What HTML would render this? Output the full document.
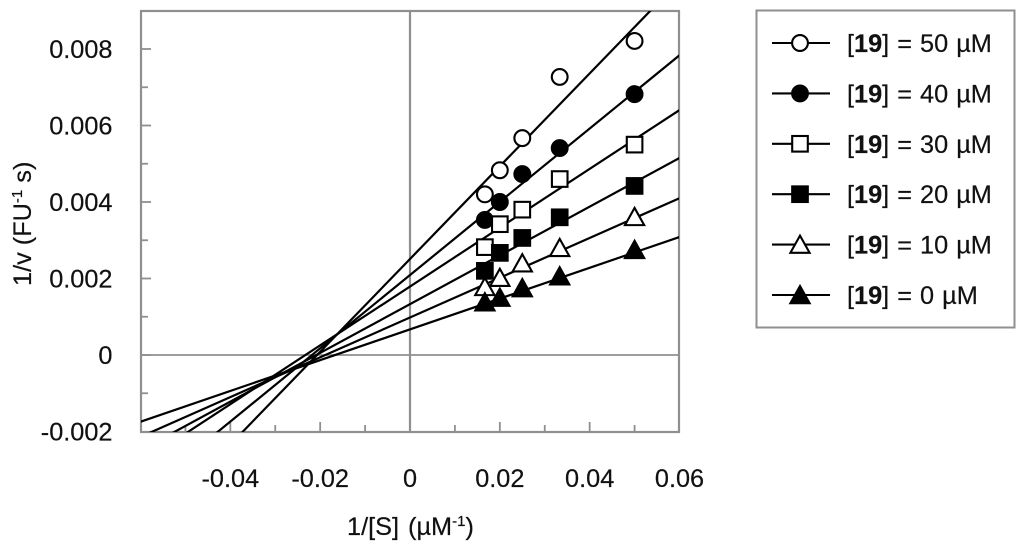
<!DOCTYPE html>
<html lang="en">
<head>
<meta charset="utf-8">
<title>Lineweaver-Burk plot</title>
<style>
html,body{margin:0;padding:0;background:#fff;width:1024px;height:550px;overflow:hidden}
svg{display:block;font-family:"Liberation Sans",sans-serif;fill:#111}
text{font-size:25.3px;stroke:#111;stroke-width:0.2}
</style>
</head>
<body>
<svg id="chart" width="1024" height="550" viewBox="0 0 1024 550" xmlns="http://www.w3.org/2000/svg">
  <defs><clipPath id="plot-clip"><rect x="141" y="11" width="538" height="421"></rect></clipPath></defs>
  <rect x="141" y="11" width="538" height="421" fill="#fff"></rect>
  <g id="axes"></g>
  <g id="lines" clip-path="url(#plot-clip)"></g>
  <g id="points"></g>
  <g id="tick-labels"></g>
  <text x="347" y="535" word-spacing="2">1/[S] (µM<tspan font-size="15" dy="-9">-1</tspan><tspan dy="9">)</tspan></text>
  <text transform="translate(31,286) rotate(-90)">1/v (FU<tspan font-size="15" dy="-9">-1</tspan><tspan dy="9"> s)</tspan></text>
  <g id="legend">
    <rect x="756.5" y="10.5" width="258" height="317" fill="#fff" stroke="#8f8f8f" stroke-width="2"></rect>
  </g>
</svg>
<script>
// Chart data
const substrateInverse = [0.01667, 0.02, 0.025, 0.03333, 0.05];
const seriesConcentrations = [50, 40, 30, 20, 10, 0];
const seriesShapes = ['circle', 'circle', 'square', 'square', 'triangle', 'triangle'];
const seriesFilled = [false, true, false, true, false, true];
const values50 = [0.00420, 0.00483, 0.00567, 0.00727, 0.00821];
const values40 = [0.00353, 0.00400, 0.00473, 0.00541, 0.00682];
const values30 = [0.00282, 0.00342, 0.00380, 0.00460, 0.00550];
const values20 = [0.00220, 0.00267, 0.00306, 0.00360, 0.00442];
const values10 = [0.00178, 0.00202, 0.00240, 0.00280, 0.00361];
const values0 = [0.00138, 0.00150, 0.00175, 0.00206, 0.00275];
const lineSlopes = [0.12127, 0.09576, 0.0769, 0.0637, 0.052, 0.04025];
const lineIntercepts = [0.00251, 0.00209, 0.00179, 0.00133, 0.00098, 0.00067];
const xTickLabels = ['-0.04', '-0.02', '0', '0.02', '0.04', '0.06'];
const yTickLabels = ['-0.002', '0', '0.002', '0.004', '0.006', '0.008'];
const xMinorTicks = [-0.05, -0.04, -0.03, -0.02, -0.01, 0.01, 0.02, 0.03, 0.04, 0.05];
const yMinorTicks = [-0.001, 0, 0.001, 0.002, 0.003, 0.004, 0.005, 0.006, 0.007, 0.008];
const allValues = [values50, values40, values30, values20, values10, values0];

const NS = 'http://www.w3.org/2000/svg';
const INK = '#000';
const AXIS = '#8f8f8f';
const xScale = function (u) { return 410 + (u / 0.06) * 269.5; };
const yScale = function (v) { return 355 - (v / 0.002) * 76.5; };
const mk = function (tag, attrs, parent) {
  const el = document.createElementNS(NS, tag);
  Object.keys(attrs).forEach(function (k) { el.setAttribute(k, attrs[k]); });
  parent.appendChild(el);
  return el;
};
const axes = document.getElementById('axes');
const lines = document.getElementById('lines');
const points = document.getElementById('points');
const tickLabels = document.getElementById('tick-labels');
const legend = document.getElementById('legend');

// Plot frame and zero axes
const frame = mk('rect', { x: 141, y: 11, width: 538, height: 421, fill: 'none', stroke: AXIS, 'stroke-width': 2.2 }, axes);


const zeroX = mk('line', { x1: xScale(0), x2: xScale(0), y1: 11, y2: 432, stroke: AXIS, 'stroke-width': 2.2 }, axes);


const zeroY = mk('line', { x1: 141, x2: 679, y1: yScale(0), y2: yScale(0), stroke: AXIS, 'stroke-width': 1.8 }, axes);



// Ticks
xMinorTicks.forEach(function (u) {
  const major = Math.abs(Math.round(u * 100)) % 2 === 0;
  const t = mk('line', { x1: xScale(u), x2: xScale(u), y1: 432, y2: major ? 422 : 425, stroke: AXIS, 'stroke-width': 1.8 }, axes);
  
  
});
yMinorTicks.forEach(function (v) {
  const major = Math.abs(Math.round(v * 1000)) % 2 === 0;
  const t = mk('line', { x1: 141, x2: major ? 151 : 148, y1: yScale(v), y2: yScale(v), stroke: AXIS, 'stroke-width': 1.8 }, axes);
  
  
});

// Tick labels
xTickLabels.forEach(function (label) {
  const t = mk('text', { x: xScale(parseFloat(label)), y: 487, 'text-anchor': 'middle' }, tickLabels);
  
  
  t.textContent = label;
});
yTickLabels.forEach(function (label) {
  const t = mk('text', { x: 112.5, y: yScale(parseFloat(label)) + 9, 'text-anchor': 'end' }, tickLabels);
  
  
  t.textContent = label;
});

// Marker drawing
function drawMarker(shape, filled, cx, cy, parent) {
  const fill = filled ? INK : '#fff';
  if (shape === 'circle') {
    return mk('circle', { cx: cx, cy: cy, r: 7.9, fill: fill, stroke: INK, 'stroke-width': 2.1 }, parent);
  }
  if (shape === 'square') {
    return mk('rect', { x: cx - 7.8, y: cy - 7.8, width: 15.6, height: 15.6, fill: fill, stroke: INK, 'stroke-width': 2.1 }, parent);
  }
  const pts = [[cx, cy - 9], [cx + 9.6, cy + 8.2], [cx - 9.6, cy + 8.2]].map(function (p) { return p.join(','); }).join(' ');
  return mk('polygon', { points: pts, fill: fill, stroke: INK, 'stroke-width': 2.1 }, parent);
}

// Trend lines
lineSlopes.forEach(function (slope, i) {
  const at = function (u) { return slope * u + lineIntercepts[i]; };
  const l = mk('line', { x1: xScale(-0.06), y1: yScale(at(-0.06)), x2: xScale(0.06), y2: yScale(at(0.06)), stroke: INK, 'stroke-width': 2.2 }, lines);
  
  
});

// Data points
allValues.forEach(function (series, i) {
  series.forEach(function (v, j) {
    const m = drawMarker(seriesShapes[i], seriesFilled[i], xScale(substrateInverse[j]), yScale(v), points);
    
    
  });
});

// Legend
seriesConcentrations.forEach(function (c, i) {
  const y = 43 + i * 50.4;
  const row = mk('g', {}, legend);
  
  
  const sw = mk('line', { x1: 772, x2: 830, y1: y, y2: y, stroke: INK, 'stroke-width': 2.1 }, row);
  
  
  const mark = drawMarker(seriesShapes[i], seriesFilled[i], 800, y, row);
  
  
  const label = mk('text', { x: 847, y: y + 9, 'word-spacing': 1 }, row);
  
  
  label.appendChild(document.createTextNode('['));
  const bold = mk('tspan', { 'font-weight': 'bold' }, label);
  bold.textContent = '19';
  label.appendChild(document.createTextNode('] = ' + c + ' µM'));
});
</script>
</body>
</html>
